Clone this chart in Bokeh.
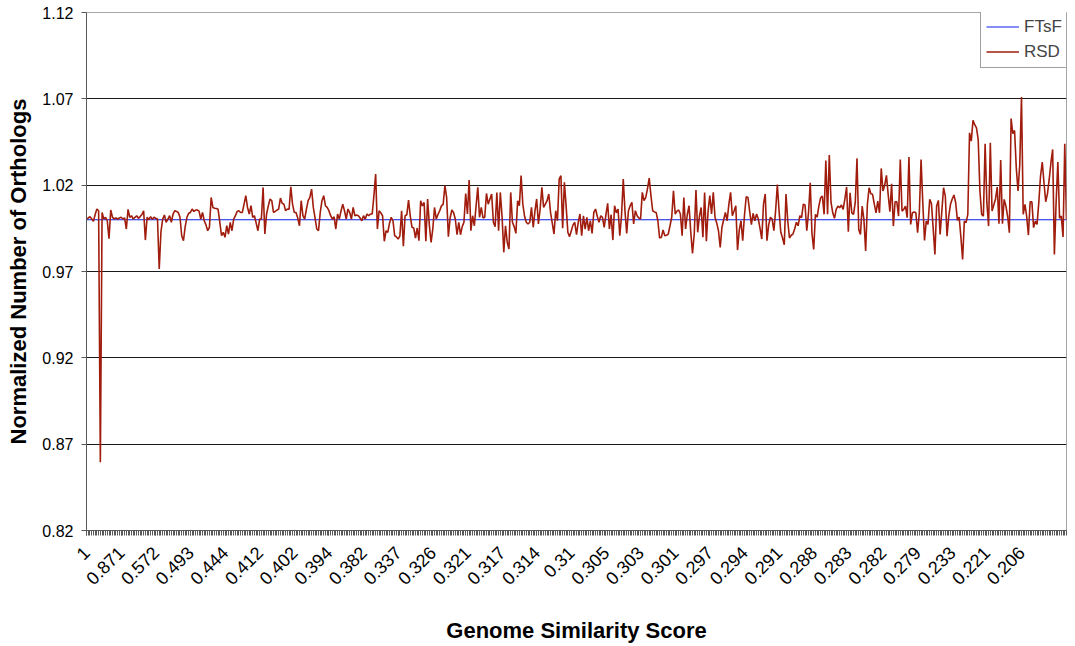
import math
from bokeh.plotting import figure
from bokeh.models import Range1d, FixedTicker, Legend, LegendItem, PrintfTickFormatter
from bokeh.embed import file_html
from bokeh.resources import INLINE

# ---------------- data ----------------
x_tick_labels = ["1", "0.871", "0.572", "0.493", "0.444", "0.412", "0.402", "0.394",
                 "0.382", "0.337", "0.326", "0.321", "0.317", "0.314", "0.31", "0.305",
                 "0.303", "0.301", "0.297", "0.294", "0.291", "0.288", "0.283", "0.282",
                 "0.279", "0.233", "0.221", "0.206"]

y_ticks = [0.82, 0.87, 0.92, 0.97, 1.02, 1.07, 1.12]

rsd = [
    1.0004, 1.0010, 1.0017, 1.0005, 0.9990, 1.0030, 1.0062, 1.0052, 0.8595, 1.0042,
    1.0005, 1.0014, 0.9994, 0.9890, 1.0056, 1.0014, 1.0005, 1.0010, 1.0004, 1.0010,
    1.0014, 1.0004, 1.0010, 0.9946, 1.0060, 1.0014, 1.0023, 1.0004, 1.0014, 1.0023,
    1.0008, 1.0018, 1.0030, 1.0052, 0.9882, 1.0014, 1.0000, 1.0018, 1.0002, 1.0014,
    1.0008, 1.0004, 0.9715, 0.9930, 1.0004, 1.0027, 0.9985, 1.0004, 1.0023, 0.9985,
    1.0033, 1.0052, 1.0048, 1.0042, 1.0014, 0.9907, 0.9878, 0.9960, 1.0014, 1.0037,
    1.0042, 1.0062, 1.0048, 1.0056, 1.0056, 1.0050, 1.0004, 1.0042, 0.9994, 0.9970,
    0.9936, 0.9956, 1.0129, 1.0071, 1.0066, 1.0065, 1.0060, 0.9985, 0.9907, 0.9927,
    0.9898, 0.9965, 0.9917, 0.9985, 0.9936, 1.0004, 1.0023, 1.0048, 1.0052, 1.0042,
    1.0042, 1.0090, 1.0139, 1.0071, 1.0033, 1.0081, 1.0014, 1.0023, 0.9980, 0.9936,
    1.0004, 1.0004, 1.0187, 0.9917, 1.0033, 1.0080, 1.0120, 1.0110, 1.0042, 1.0048,
    1.0055, 1.0062, 1.0125, 1.0095, 1.0090, 1.0052, 1.0062, 1.0060, 1.0191, 1.0090,
    1.0042, 1.0042, 1.0010, 0.9965, 1.0110, 1.0023, 1.0004, 1.0060, 1.0110, 1.0129,
    1.0177, 1.0071, 1.0010, 0.9946, 0.9936, 1.0042, 1.0110, 1.0139, 1.0081, 1.0071,
    1.0052, 1.0023, 1.0004, 1.0017, 0.9946, 1.0033, 1.0004, 1.0050, 1.0090, 1.0052,
    1.0004, 1.0062, 1.0042, 1.0004, 1.0071, 1.0023, 1.0027, 1.0023, 1.0010, 0.9994,
    1.0023, 1.0004, 1.0033, 1.0023, 1.0033, 1.0033, 1.0140, 1.0264, 0.9946, 1.0052,
    1.0040, 1.0023, 0.9875, 0.9936, 0.9927, 0.9980, 1.0014, 0.9994, 0.9907, 0.9900,
    0.9888, 0.9907, 1.0052, 0.9846, 1.0023, 1.0029, 1.0114, 1.0020, 0.9956, 0.9952,
    0.9894, 0.9952, 0.9878, 1.0110, 1.0080, 1.0100, 0.9875, 1.0120, 0.9970, 0.9869,
    0.9946, 1.0071, 1.0004, 1.0030, 1.0052, 1.0080, 1.0090, 1.0197, 1.0129, 0.9902,
    1.0010, 1.0056, 1.0042, 1.0004, 0.9913, 0.9985, 0.9913, 0.9960, 0.9985, 1.0152,
    1.0033, 1.0230, 0.9936, 1.0023, 0.9965, 1.0080, 1.0187, 1.0014, 1.0071, 1.0010,
    1.0014, 1.0152, 1.0090, 1.0120, 1.0149, 0.9985, 0.9959, 1.0158, 0.9936, 1.0158,
    1.0020, 0.9811, 0.9965, 0.9869, 0.9830, 1.0158, 0.9985, 0.9960, 0.9921, 1.0110,
    1.0081, 1.0255, 1.0090, 1.0020, 0.9985, 0.9975, 0.9985, 1.0071, 0.9956, 1.0050,
    1.0120, 0.9975, 1.0062, 1.0187, 1.0071, 1.0090, 1.0110, 1.0149, 1.0042, 0.9980,
    0.9917, 1.0052, 0.9994, 1.0235, 1.0255, 0.9950, 1.0216, 1.0080, 0.9927, 0.9902,
    0.9936, 0.9970, 0.9985, 0.9913, 0.9985, 1.0033, 0.9907, 1.0023, 0.9946, 1.0014,
    0.9936, 0.9994, 0.9921, 1.0042, 1.0062, 1.0020, 0.9985, 1.0023, 1.0014, 0.9956,
    1.0030, 1.0095, 0.9946, 1.0029, 0.9882, 1.0081, 1.0040, 1.0062, 0.9907, 1.0023,
    1.0235, 1.0050, 0.9921, 1.0052, 1.0081, 1.0100, 0.9975, 1.0052, 1.0023, 1.0010,
    1.0004, 1.0158, 1.0110, 1.0129, 1.0180, 1.0241, 1.0139, 1.0052, 1.0045, 1.0042,
    0.9994, 0.9894, 0.9898, 0.9940, 0.9907, 0.9910, 0.9917, 0.9965, 1.0014, 1.0168,
    1.0033, 1.0050, 1.0056, 1.0033, 0.9907, 1.0129, 0.9946, 1.0030, 1.0081, 0.9927,
    0.9805, 0.9917, 1.0172, 0.9927, 1.0020, 1.0071, 0.9898, 1.0158, 0.9875, 1.0050,
    1.0139, 1.0033, 1.0158, 1.0014, 0.9980, 0.9936, 0.9840, 0.9956, 1.0000, 1.0042,
    0.9994, 1.0090, 1.0158, 1.0023, 1.0050, 1.0081, 0.9824, 0.9940, 0.9994, 0.9878,
    1.0023, 1.0133, 1.0129, 1.0050, 0.9971, 1.0037, 0.9994, 1.0033, 1.0004, 0.9950,
    0.9888, 1.0090, 1.0149, 0.9878, 0.9970, 1.0014, 1.0004, 0.9936, 1.0052, 1.0203,
    1.0050, 0.9927, 0.9894, 0.9855, 1.0149, 0.9994, 0.9894, 0.9910, 0.9917, 0.9946,
    0.9985, 0.9965, 1.0023, 1.0012, 1.0090, 1.0085, 0.9936, 1.0040, 1.0214, 0.9920,
    0.9828, 1.0031, 1.0015, 1.0080, 1.0127, 1.0137, 1.0031, 1.0343, 1.0031, 1.0374,
    1.0100, 1.0040, 1.0008, 1.0060, 1.0079, 1.0069, 1.0085, 1.0060, 1.0120, 1.0189,
    0.9931, 1.0156, 1.0040, 1.0031, 1.0100, 1.0355, 0.9944, 0.9915, 1.0079, 1.0000,
    0.9819, 1.0089, 1.0185, 1.0150, 1.0147, 1.0090, 1.0040, 1.0108, 1.0040, 1.0297,
    1.0166, 1.0200, 1.0257, 1.0147, 1.0046, 1.0208, 0.9963, 1.0104, 1.0104, 1.0021,
    1.0349, 1.0050, 1.0060, 1.0079, 1.0012, 1.0363, 0.9973, 1.0040, 1.0045, 1.0040,
    0.9925, 1.0040, 1.0349, 1.0100, 0.9880, 0.9992, 0.9973, 1.0118, 1.0093, 0.9950,
    0.9799, 1.0079, 1.0112, 0.9915, 1.0050, 1.0185, 1.0137, 0.9905, 1.0021, 1.0089,
    1.0120, 1.0143, 1.0098, 0.9996, 1.0015, 0.9900, 0.9770, 0.9992, 0.9983, 1.0031,
    1.0503, 1.0455, 1.0575, 1.0550, 1.0532, 1.0465, 1.0166, 1.0031, 1.0021, 1.0440,
    1.0100, 0.9963, 1.0446, 1.0050, 1.0085, 1.0120, 1.0189, 0.9977, 1.0345, 0.9977,
    1.0118, 1.0079, 1.0020, 0.9925, 1.0586, 1.0498, 1.0517, 1.0300, 1.0166, 1.0320,
    1.0710, 1.0031, 1.0089, 1.0020, 0.9911, 1.0104, 1.0104, 0.9954, 0.9992, 0.9973,
    1.0100, 1.0253, 1.0334, 1.0214, 1.0104, 1.0150, 1.0233, 1.0330, 1.0407, 0.9799,
    1.0100, 1.0334, 1.0008, 1.0021, 0.9900, 1.0440, 1.0000,
]

ftsf = [1.0] * len(rsd)
idx = list(range(len(rsd)))

# ---------------- style ----------------
FONT = "Liberation Sans"
AXIS_COLOR = "#595959"
LABEL_STEP = 20

p = figure(width=1075, height=646, output_backend="svg", toolbar_location=None,
           x_range=Range1d(0, len(rsd) - 1), y_range=Range1d(0.82, 1.12),
           min_border_left=86, min_border_right=9, min_border_top=12, min_border_bottom=116)
p.background_fill_color = "white"
p.border_fill_color = "white"
p.outline_line_color = "#a6a6a6"
p.outline_line_width = 1

r1 = p.line(idx, ftsf, line_color="#0a1ee8", line_width=1.1)
r2 = p.line(idx, rsd, line_color="#a01c0c", line_width=1.6)

# x axis
label_pos = [i * LABEL_STEP for i in range(len(x_tick_labels))]
p.xaxis.ticker = FixedTicker(ticks=label_pos, minor_ticks=idx)
p.xaxis.major_label_overrides = {pos: lab for pos, lab in zip(label_pos, x_tick_labels)}
p.xaxis.major_label_orientation = math.pi / 4
p.xaxis.axis_label = "Genome Similarity Score"
p.xaxis.major_label_standoff = 14
p.xaxis.axis_label_standoff = 24
p.xaxis.major_label_text_font_size = "18px"
p.xaxis.minor_tick_out = 5
p.xaxis.minor_tick_in = 0
p.xaxis.minor_tick_line_color = AXIS_COLOR

# y axis
p.yaxis.ticker = FixedTicker(ticks=y_ticks)
p.yaxis.formatter = PrintfTickFormatter(format="%.2f")
p.yaxis.axis_label = "Normalized Number of Orthologs"
p.yaxis.major_label_standoff = 8
p.yaxis.axis_label_standoff = 8
p.yaxis.major_label_text_font_size = "16px"
p.yaxis.minor_tick_line_color = None

for ax in (p.xaxis, p.yaxis):
    ax.axis_line_color = AXIS_COLOR
    ax.axis_line_width = 1
    ax.major_tick_line_color = AXIS_COLOR
    ax.major_tick_out = 5
    ax.major_tick_in = 0
    ax.major_label_text_font = FONT
    ax.major_label_text_color = "black"
    ax.axis_label_text_font = FONT
    ax.axis_label_text_font_size = "22px"
    ax.axis_label_text_font_style = "bold"
    ax.axis_label_text_color = "black"

p.xgrid.visible = False
p.ygrid.ticker = FixedTicker(ticks=y_ticks)
p.ygrid.grid_line_color = "#1a1a1a"
p.ygrid.grid_line_width = 1

legend = Legend(items=[LegendItem(label="FTsF", renderers=[r1]),
                       LegendItem(label="RSD", renderers=[r2])],
                location=(894, 462), margin=0, padding=5, spacing=4,
                glyph_width=33, glyph_height=21, label_height=21, label_standoff=5,
                label_text_font=FONT, label_text_font_size="17px",
                border_line_color="#404040", border_line_width=1,
                background_fill_color="white", background_fill_alpha=1.0)
p.add_layout(legend)

open("out.html", "w").write(file_html(p, INLINE))
